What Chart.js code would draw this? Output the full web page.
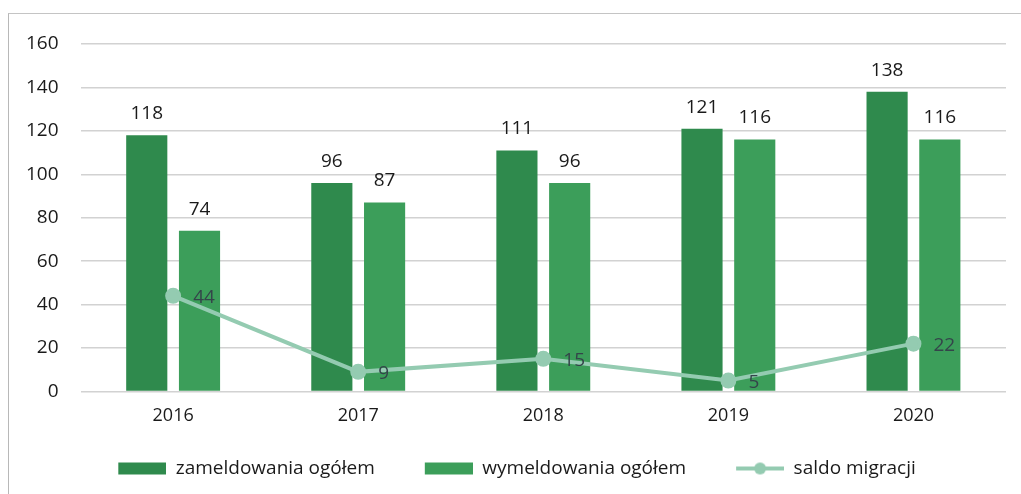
<!DOCTYPE html>
<html>
<head>
<meta charset="utf-8">
<script src="https://cdn.jsdelivr.net/npm/chart.js@4/dist/chart.umd.min.js"></script>
<style>
  html, body { margin: 0; padding: 0; background: #fff; }
  #wrap { position: relative; width: 1021px; height: 494px; }
  #frame { position: absolute; left: 8px; top: 13px; right: 0; bottom: 0;
           border-left: 1.5px solid #b8b8b8; border-top: 1.5px solid #c4c4c4; }
  canvas { position: absolute; left: 0; top: 0; }
</style>
</head>
<body>
<div id="wrap"><div id="frame"></div><canvas id="migChart" width="1021" height="494"></canvas></div>
<script>
const years = ['2016', '2017', '2018', '2019', '2020'];
const zameldowania = [118, 96, 111, 121, 138];
const wymeldowania = [74, 87, 96, 116, 116];
const saldo = [44, 9, 15, 5, 22];
const yTicks = [0, 20, 40, 60, 80, 100, 120, 140, 160];

const FONT = '"Open Sans", Lato, sans-serif';
const C_ZAM = '#2f8a4d';
const C_WYM = '#3c9e5a';
const C_SAL = '#94cbb1';

// legend swatches: rectangle for bars, line with dot for the line series
// (a transparent strip on the left widens the gap between legend items)
const SW_GAP = 24, SW_W = 48;
function swatch(color, isLine) {
    const c = document.createElement('canvas');
    c.width = SW_GAP + SW_W; c.height = 14;
    const g = c.getContext('2d');
    if (isLine) {
        g.strokeStyle = color; g.lineWidth = 4;
        g.beginPath(); g.moveTo(SW_GAP, 7); g.lineTo(SW_GAP + SW_W, 7); g.stroke();
        g.fillStyle = color;
        g.beginPath(); g.arc(SW_GAP + SW_W / 2, 7, 6, 0, Math.PI * 2); g.fill();
    } else {
        g.fillStyle = color;
        g.fillRect(SW_GAP, 1, SW_W, 12);
    }
    return c;
}

const valueLabels = {
    id: 'valueLabels',
    afterDatasetsDraw(chart) {
        const ctx = chart.ctx;
        ctx.save();
        ctx.font = '19px ' + FONT;
        chart.data.datasets.forEach((ds, i) => {
            const meta = chart.getDatasetMeta(i);
            meta.data.forEach((el, j) => {
                const v = ds.data[j];
                if (ds.type === 'line') {
                    ctx.fillStyle = '#34444a';
                    ctx.textAlign = 'left';
                    ctx.textBaseline = 'middle';
                    ctx.fillText(v, el.x + 20, el.y + 2);
                } else {
                    ctx.fillStyle = '#1a1a1a';
                    ctx.textAlign = 'center';
                    ctx.textBaseline = 'bottom';
                    ctx.fillText(v, el.x, el.y - 12);
                }
            });
        });
        ctx.restore();
    }
};

const ctx = document.getElementById('migChart').getContext('2d');
new Chart(ctx, {
    data: {
        labels: years,
        datasets: [
            {
                type: 'bar',
                label: 'zameldowania ogółem',
                data: zameldowania,
                backgroundColor: C_ZAM,
                categoryPercentage: 0.57,
                barPercentage: 0.78,
                order: 1,
            },
            {
                type: 'bar',
                label: 'wymeldowania ogółem',
                data: wymeldowania,
                backgroundColor: C_WYM,
                categoryPercentage: 0.57,
                barPercentage: 0.78,
                order: 1,
            },
            {
                type: 'line',
                label: 'saldo migracji',
                data: saldo,
                borderColor: C_SAL,
                backgroundColor: C_SAL,
                borderWidth: 4,
                pointRadius: 6,
                pointHoverRadius: 6,
                pointStyle: 'circle',
                tension: 0,
                order: 0,
            }
        ],
    },
    options: {
        responsive: false,
        animation: false,
        layout: { padding: { left: 4, right: 15, top: 44, bottom: 6 } },
        plugins: {
            tooltip: { enabled: false },
            legend: {
                position: 'bottom',
                labels: {
                    color: '#1a1a1a',
                    font: { size: 19, family: FONT },
                    usePointStyle: true,
                    pointStyleWidth: SW_GAP + SW_W,
                    padding: 26,
                    generateLabels(chart) {
                        return chart.data.datasets.map((ds, i) => ({
                            text: ds.label,
                            fontColor: '#1a1a1a',
                            pointStyle: swatch(ds.backgroundColor, i === 2),
                            datasetIndex: i,
                            hidden: false,
                            lineWidth: 0,
                        }));
                    },
                },
            },
        },
        scales: {
            x: {
                grid: { display: false },
                border: { display: false },
                ticks: {
                    color: '#1a1a1a',
                    font: { size: 18, family: FONT },
                    padding: 6,
                },
            },
            y: {
                min: 0,
                max: 160,
                afterBuildTicks: axis => { axis.ticks = yTicks.map(v => ({ value: v })); },
                grid: { color: '#d2d2d2', lineWidth: 1.5, drawTicks: false },
                border: { display: false },
                ticks: {
                    color: '#1a1a1a',
                    font: { size: 19, family: FONT },
                    padding: 22,
                },
            },
        },
    },
    plugins: [valueLabels],
});
</script>
</body>
</html>
